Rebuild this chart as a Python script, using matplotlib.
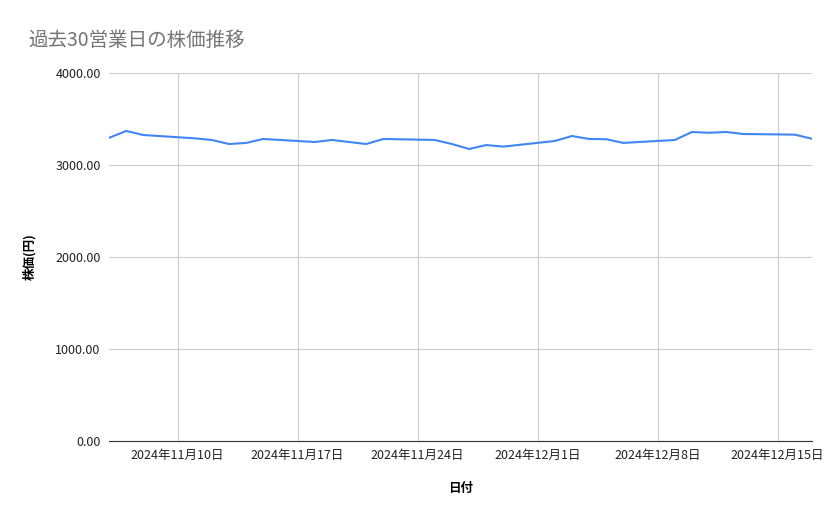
import numpy as np
import matplotlib.pyplot as plt
import matplotlib.dates as mdates
import pandas as pd

plt.rcParams['font.family'] = ['Noto Sans CJK JP', 'DejaVu Sans']

dates = pd.to_datetime([
    "2024-11-06", "2024-11-07", "2024-11-08", "2024-11-11", "2024-11-12",
    "2024-11-13", "2024-11-14", "2024-11-15", "2024-11-18", "2024-11-19",
    "2024-11-20", "2024-11-21", "2024-11-22", "2024-11-25", "2024-11-26",
    "2024-11-27", "2024-11-28", "2024-11-29", "2024-12-02", "2024-12-03",
    "2024-12-04", "2024-12-05", "2024-12-06", "2024-12-09", "2024-12-10",
    "2024-12-11", "2024-12-12", "2024-12-13", "2024-12-16", "2024-12-17"])
prices = [3295, 3370, 3326, 3290, 3272, 3228, 3240, 3283, 3250, 3272,
          3250, 3228, 3283, 3272, 3228, 3174, 3217, 3200, 3261, 3315,
          3283, 3280, 3240, 3272, 3359, 3350, 3359, 3337, 3330, 3285]
tick_dates = pd.to_datetime(["2024-11-10", "2024-11-17", "2024-11-24",
                             "2024-12-01", "2024-12-08", "2024-12-15"])
tick_labels = ["2024年11月10日", "2024年11月17日", "2024年11月24日",
               "2024年12月1日", "2024年12月8日", "2024年12月15日"]

fig = plt.figure(figsize=(8.39, 5.19), dpi=100)
ax = fig.add_axes([109/839, 1-441/519, (812-109)/839, (441-73)/519])
ax.plot(dates, prices, color='#4285f4', lw=1.5)
ax.set_xlim(dates[0], dates[-1])
ax.set_ylim(0, 4000)
ax.set_yticks([0, 1000, 2000, 3000, 4000])
ax.set_yticklabels(["%.2f" % v for v in [0, 1000, 2000, 3000, 4000]])
ax.set_xticks(tick_dates)
ax.set_xticklabels(tick_labels)
ax.grid(color='#cccccc', lw=0.8)
ax.tick_params(length=0, labelsize=9, colors='#222222', pad=6)
for s in ['top', 'right', 'left']:
    ax.spines[s].set_visible(False)
ax.spines['bottom'].set_color('#333333')
ax.set_xlabel("日付", fontsize=9, labelpad=14, fontweight='bold')
ax.set_ylabel("株価(円)", fontsize=9, labelpad=14, fontweight='bold')
fig.text(28/839, 1-40/519, "過去30営業日の株価推移", fontsize=14, color='#757575', va='center')
fig.savefig("out.png", dpi=100)
